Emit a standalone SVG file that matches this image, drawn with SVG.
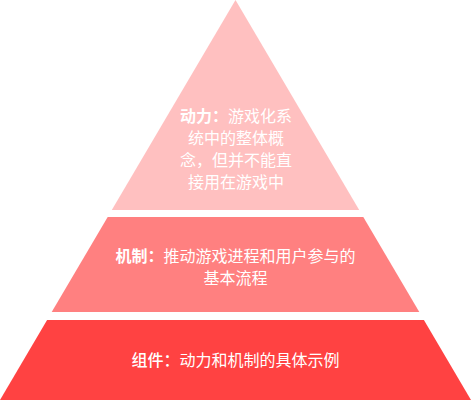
<svg xmlns="http://www.w3.org/2000/svg" width="471" height="400" viewBox="0 0 471 400">
<style>
.t{font-family:"Noto Sans CJK SC","Noto Sans",sans-serif;font-size:16px;fill:#ffffff;text-anchor:middle}
.b{font-weight:bold}
.m{font-weight:500}
</style>
<rect width="471" height="400" fill="#ffffff"/>
<g id="dynamics">
<polygon points="235.5,0 359.2,210 111.8,210" fill="#ffc0c0"/>
<text class="t" x="236" y="121.5"><tspan class="b">动力：</tspan>游戏化系</text>
<text class="t" x="236" y="143.5">统中的整体概</text>
<text class="t" x="236" y="165.5">念，但并不能直</text>
<text class="t" x="236" y="187.5">接用在游戏中</text>
</g>
<g id="mechanics">
<polygon points="107.7,217 363.3,217 419.3,312 51.7,312" fill="#ff8080"/>
<text class="t" x="235.5" y="261.5"><tspan class="b">机制：</tspan>推动游戏进程和用户参与的</text>
<text class="t" x="235.5" y="283.5">基本流程</text>
</g>
<g id="components">
<polygon points="47.1,320 423.9,320 471,400 0,400" fill="#ff4242"/>
<text class="t" x="235.5" y="366"><tspan class="m">组件：</tspan>动力和机制的具体示例</text>
</g>
<g id="connectors"></g>
</svg>
